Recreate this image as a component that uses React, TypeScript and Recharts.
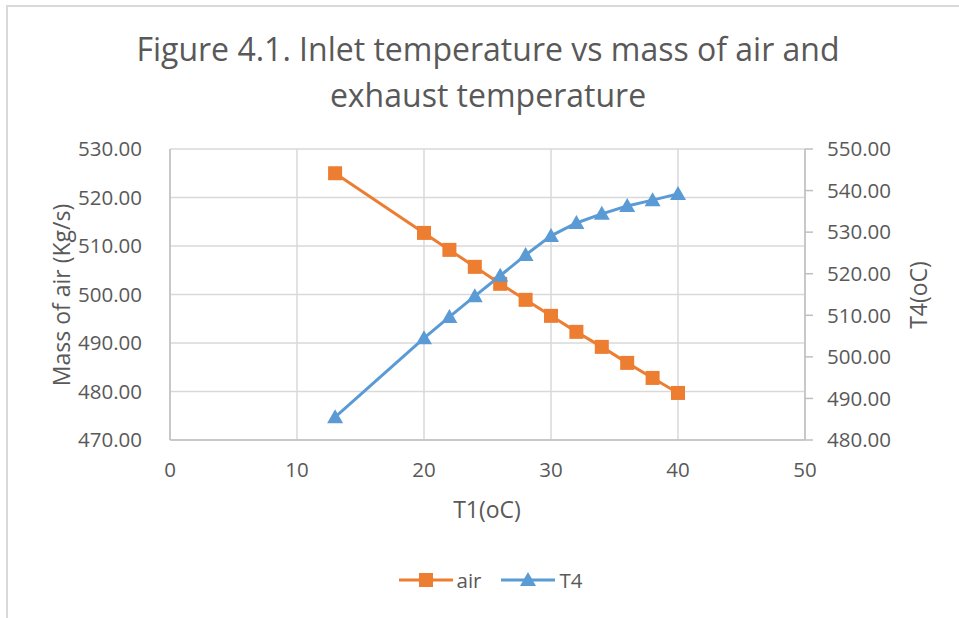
import { LineChart, Line, XAxis, YAxis, CartesianGrid, Legend } from 'recharts'

const t1 = [13, 20, 22, 24, 26, 28, 30, 32, 34, 36, 38, 40]
const airMass = [525.0, 512.7, 509.2, 505.7, 502.2, 498.9, 495.6, 492.3, 489.2, 485.9, 482.8, 479.7]
const t4Temp = [485.5, 504.5, 509.6, 514.6, 519.5, 524.5, 529.1, 532.2, 534.4, 536.3, 537.7, 539.2]

const xTicks = [0, 10, 20, 30, 40, 50]
const airTicks = [470, 480, 490, 500, 510, 520, 530]
const t4Ticks = [480, 490, 500, 510, 520, 530, 540, 550]
const legendOrder = ['air', 'T4']

const data = t1.map((x, i) => ({ t1: x, air: airMass[i], T4: t4Temp[i] }))

const ORANGE = '#ED7D31'
const BLUE = '#5B9BD5'
const TEXT = '#595959'
const FONT = '"Open Sans", sans-serif'
const TICK_SIZE = 20.5

const SquareDot = (props: any) => {
  const { cx, cy } = props
  if (cx == null || cy == null) return null
  return <rect x={cx - 7} y={cy - 7} width={14} height={14} fill={ORANGE} />
}

const TriangleDot = (props: any) => {
  const { cx, cy } = props
  if (cx == null || cy == null) return null
  return <polygon points={`${cx},${cy - 8} ${cx + 8},${cy + 6} ${cx - 8},${cy + 6}`} fill={BLUE} />
}

const renderLegend = (props: any) => {
  const items = [...(props.payload || [])].sort(
    (a: any, b: any) => legendOrder.indexOf(a.value) - legendOrder.indexOf(b.value)
  )
  return (
    <div style={{ display: 'flex', justifyContent: 'center', alignItems: 'center', height: 26, fontFamily: FONT, fontSize: TICK_SIZE, color: TEXT }}>
      {items.map((p: any, i: number) => (
        <div key={p.value} style={{ display: 'flex', alignItems: 'center', marginLeft: i === 0 ? 0 : 20 }}>
          <svg width={54} height={18}>
            <line x1={0} y1={9} x2={54} y2={9} stroke={p.color} strokeWidth={3} />
            {p.value === 'air'
              ? <rect x={20} y={2} width={14} height={14} fill={p.color} />
              : <polygon points="27,1 35,15 19,15" fill={p.color} />}
          </svg>
          <span style={{ marginLeft: 4 }}>{p.value}</span>
        </div>
      ))}
    </div>
  )
}

export default function App() {
  return (
    <div style={{ position: 'absolute', left: 0, top: 0, width: 959, height: 618, background: '#fff', fontFamily: FONT }}>
      <div style={{ position: 'absolute', left: 6, top: 5, width: 953, height: 613, borderLeft: '2px solid #d9d9d9', borderTop: '2px solid #d9d9d9' }} />
      <LineChart width={959} height={618} data={data} margin={{ top: 149, right: 54, bottom: 52, left: 70 }}>
        <CartesianGrid yAxisId="left" stroke="#d9d9d9" strokeWidth={1.5} />
        <XAxis
          dataKey="t1"
          type="number"
          domain={[0, 50]}
          ticks={xTicks}
          height={100}
          stroke="#bfbfbf"
          strokeWidth={1.5}
          tickLine={false}
          tick={{ fill: TEXT, fontSize: TICK_SIZE, fontFamily: FONT }}
          tickMargin={16}
        />
        <YAxis
          yAxisId="left"
          domain={[470, 530]}
          ticks={airTicks}
          width={100}
          stroke="#bfbfbf"
          strokeWidth={1.5}
          tickLine={false}
          tick={{ fill: TEXT, fontSize: TICK_SIZE, fontFamily: FONT }}
          tickMargin={22}
          tickFormatter={(v: number) => v.toFixed(2)}
        />
        <YAxis
          yAxisId="right"
          orientation="right"
          domain={[480, 550]}
          ticks={t4Ticks}
          width={100}
          stroke="#bfbfbf"
          strokeWidth={1.5}
          tickSize={8}
          tick={{ fill: TEXT, fontSize: TICK_SIZE, fontFamily: FONT }}
          tickMargin={14}
          tickFormatter={(v: number) => v.toFixed(2)}
        />
        <Line yAxisId="left" dataKey="air" name="air" stroke={ORANGE} strokeWidth={3} dot={<SquareDot />} activeDot={false} isAnimationActive={false} />
        <Line yAxisId="right" dataKey="T4" name="T4" stroke={BLUE} strokeWidth={3} dot={<TriangleDot />} activeDot={false} isAnimationActive={false} />
        <Legend content={renderLegend} wrapperStyle={{ left: 11, top: 567, width: 959 }} />
      </LineChart>
      <svg width={959} height={618} style={{ position: 'absolute', left: 0, top: 0, pointerEvents: 'none' }}>
        <text x={488} y={61} textAnchor="middle" fontSize={32} fill={TEXT} fontFamily={FONT}>Figure 4.1. Inlet temperature vs mass of air and</text>
        <text x={488} y={107} textAnchor="middle" fontSize={32} fill={TEXT} fontFamily={FONT}>exhaust temperature</text>
        <text x={487} y={518} textAnchor="middle" fontSize={23} fill={TEXT} fontFamily={FONT}>T1(oC)</text>
        <text transform="translate(70,295) rotate(-90)" textAnchor="middle" fontSize={23} fill={TEXT} fontFamily={FONT}>Mass of air (Kg/s)</text>
        <text transform="translate(927,295) rotate(-90)" textAnchor="middle" fontSize={23} fill={TEXT} fontFamily={FONT}>T4(oC)</text>
      </svg>
    </div>
  )
}
